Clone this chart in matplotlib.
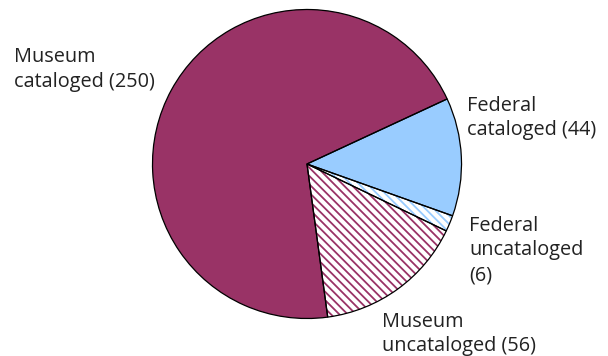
import matplotlib.pyplot as plt

plt.rcParams['font.family'] = ['Open Sans', 'DejaVu Sans']
plt.rcParams['hatch.linewidth'] = 1.3

labels = ["Federal\ncataloged (44)", "Federal\nuncataloged\n(6)",
          "Museum\nuncataloged (56)", "Museum\ncataloged (250)"]
values = [44, 6, 56, 250]
colors = ["#99ccff", "white", "white", "#993366"]
hatch_colors = ["#99ccff", "#99ccff", "#993366", "#993366"]
hatches = [None, "\\\\\\\\", "\\\\\\\\", None]

W, H = 608, 356
fig = plt.figure(figsize=(W / 100, H / 100), dpi=100)
ax = fig.add_axes([0, 0, 1, 1])

cx, cy, r = 307, H - 164, 154.5
start = 24.9

# fill + hatch
wedges, _ = ax.pie(values, colors=colors, startangle=start, counterclock=False,
                   center=(cx, cy), radius=r, frame=True,
                   wedgeprops=dict(linewidth=0))
for w, hc, h in zip(wedges, hatch_colors, hatches):
    w.set_edgecolor(hc)
    if h:
        w.set_hatch(h)

# black outlines
ax.pie(values, colors=["none"] * 4, startangle=start, counterclock=False,
       center=(cx, cy), radius=r, frame=True,
       wedgeprops=dict(linewidth=0.9, edgecolor="black", fill=False))

ax.set_xlim(0, W)
ax.set_ylim(0, H)
ax.set_aspect('equal')
ax.axis('off')

# y = top of capitals in pixels from the top
pos = [(467, 96), (469, 216), (382, 312), (14, 47)]
for lab, (x, y) in zip(labels, pos):
    ax.text(x, H - y, lab, ha='left', va='top', fontsize=14.3, color='#222222',
            linespacing=1.3)

fig.savefig("out.png", dpi=100)
